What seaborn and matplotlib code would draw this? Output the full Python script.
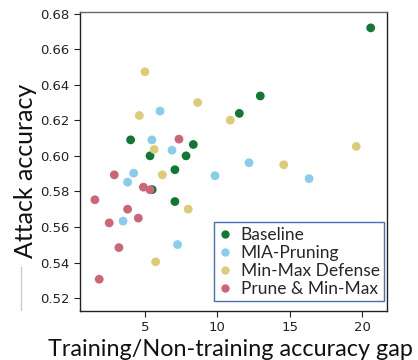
import matplotlib
matplotlib.use("Agg")
import matplotlib.pyplot as plt
import seaborn as sns
import pandas as pd
from matplotlib.lines import Line2D

categories = ["Baseline", "MIA-Pruning", "Min-Max Defense", "Prune & Min-Max"]

baseline_x = [4.01, 5.35, 7.84, 8.34, 7.07, 5.5, 7.07, 20.6, 12.97, 11.52]
baseline_y = [0.609, 0.600, 0.600, 0.6064, 0.5922, 0.581, 0.5743, 0.672, 0.6337, 0.6239]

pruning_x = [6.04, 5.48, 6.87, 4.22, 3.8, 3.49, 7.25, 12.19, 9.84, 16.34]
pruning_y = [0.6252, 0.609, 0.6032, 0.5903, 0.5852, 0.5633, 0.5501, 0.5961, 0.5888, 0.5872]

minmax_x = [5.0, 4.61, 8.64, 5.64, 6.2, 7.99, 5.74, 10.9, 19.6, 14.59]
minmax_y = [0.6473, 0.6227, 0.630, 0.6036, 0.5893, 0.570, 0.5404, 0.6201, 0.6053, 0.595]

prune_minmax_x = [7.35, 2.88, 4.89, 5.35, 1.54, 3.8, 4.54, 2.53, 3.2, 1.84]
prune_minmax_y = [0.6094, 0.5893, 0.5824, 0.5809, 0.5753, 0.570, 0.565, 0.5623, 0.5484, 0.5306]

colors = ["#117733", "#88CCEE", "#DDCC77", "#CC6677"]

xs = [baseline_x, pruning_x, minmax_x, prune_minmax_x]
ys = [baseline_y, pruning_y, minmax_y, prune_minmax_y]
df = pd.concat([pd.DataFrame({"gap": x, "acc": y, "method": c})
                for x, y, c in zip(xs, ys, categories)], ignore_index=True)

sns.set_style("ticks")
plt.rcParams["font.family"] = ["DejaVu Sans"]

fig = plt.figure(figsize=(4.18, 3.6), dpi=100)
ax = fig.add_axes([0.191, 0.136, 0.735, 0.831])

sns.scatterplot(data=df, x="gap", y="acc", hue="method", hue_order=categories,
                palette=colors, s=40, linewidth=0, ax=ax, legend=False)

ax.set_xlim(0.5, 21.73)
ax.set_ylim(0.5127, 0.681)
ax.set_xticks([5, 10, 15, 20])
ax.set_yticks([0.52, 0.54, 0.56, 0.58, 0.60, 0.62, 0.64, 0.66, 0.68])
ax.yaxis.set_major_formatter(matplotlib.ticker.FormatStrFormatter("%.2f"))
ax.tick_params(labelsize=9.5, colors="#222222", length=4, width=0.8)
for s in ax.spines.values():
    s.set_visible(True)
    s.set_linewidth(1.0)
    s.set_color("#222222")
ax.spines["top"].set_color("#666666")

ax.set_xlabel("Training/Non-training accuracy gap", fontsize=16.8, family="Lato",
              color="#111111")
ax.xaxis.set_label_coords(0.49, -0.094)
ax.set_ylabel("Attack accuracy", fontsize=18, family="Lato", color="#111111")
ax.yaxis.set_label_coords(-0.141, 0.47)

handles = [Line2D([], [], marker="o", linestyle="", markersize=6,
                  markerfacecolor=c, markeredgewidth=0) for c in colors]
leg = ax.legend(handles, categories, loc="lower right", bbox_to_anchor=(0.99, 0.033),
                frameon=True, fancybox=False, framealpha=1,
                prop={"family": "Lato", "size": 12.5}, handlelength=0.8,
                handletextpad=0.5, labelspacing=0.12, borderpad=0.25,
                borderaxespad=0.0)
leg.get_frame().set_edgecolor("#4a6fb0")
leg.get_frame().set_linewidth(1.0)

fig.add_artist(Line2D([0.05, 0.05], [1 - 267 / 360, 1 - 310 / 360],
                      transform=fig.transFigure, color="#cccccc", linewidth=1))

fig.savefig("out.png", dpi=100)
